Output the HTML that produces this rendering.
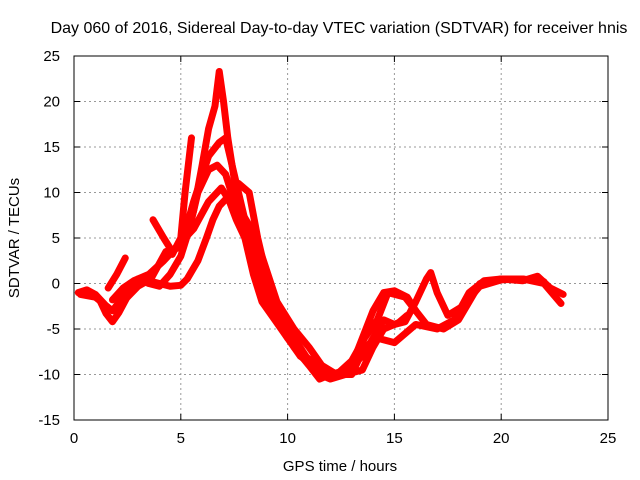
<!DOCTYPE html>
<html><head><meta charset="utf-8"><style>
body{margin:0;background:#fff;}
svg{display:block;font-family:"Liberation Sans",sans-serif;}
</style></head><body>
<svg id="chart" width="640" height="480">
<text x="339" y="33" text-anchor="middle" font-size="16" fill="#000">Day 060 of 2016, Sidereal Day-to-day VTEC variation (SDTVAR) for receiver hnis</text>
<text transform="translate(19,238) rotate(-90)" text-anchor="middle" font-size="15" fill="#000">SDTVAR / TECUs</text>
<text x="340" y="471" text-anchor="middle" font-size="15" fill="#000">GPS time / hours</text>
<g id="grid"></g>
<g id="ticks"></g>
<g id="series"></g>
<rect x="74" y="56" width="534" height="364" fill="none" stroke="#000" stroke-width="1"/>
</svg>
<script>
const xTicks=[0,5,10,15,20,25];
const yTicks=[-15,-10,-5,0,5,10,15,20,25];
const s1=[[0.2,-1],[0.6,-0.7],[1,-1.2],[1.4,-2.2],[1.6,-2.8]];
const s2=[[1.2,-1.8],[1.5,-3.3],[1.8,-4.2],[2.1,-3.2],[2.6,-1],[3,0],[3.5,0.3],[4,0],[4.5,-0.3],[5,-0.2],[5.3,0.5],[5.8,2.5],[6.2,5],[6.5,7],[6.8,8.5],[7.2,9.5],[7.6,7],[8,5],[8.5,2],[9,-1],[9.7,-4],[10.3,-6],[11,-8.5],[11.5,-10],[12,-10.5],[12.7,-10],[13.5,-9.5],[14,-7],[14.5,-5],[15.2,-4.3],[15.6,-3.5]];
const s3=[[1.8,-1.8],[2.3,-0.5],[2.8,0.3],[3.5,1],[4.2,2.5],[4.8,4],[5.2,5],[5.6,8],[6,13],[6.3,17],[6.6,19.5],[6.8,23.3],[7,20],[7.2,16],[7.6,10],[8,5],[8.4,1],[8.8,-2],[9.4,-4],[10,-6],[10.6,-8],[11.2,-9],[11.8,-9.5],[12.4,-10],[13,-9],[13.5,-6],[14,-3],[14.5,-1],[15,-0.8],[15.6,-1.5],[16,-3],[16.5,-4.5],[17.3,-5],[18,-4],[18.5,-2],[19,0],[20,0.5],[21,0.3],[21.7,0.8],[22.3,-0.5],[22.9,-1.2]];
const s4=[[2.5,-1.5],[3,-0.3],[3.6,0.5],[4.3,3.5],[5,4],[5.6,9],[6.3,14],[6.8,15.5],[7.1,16],[7.5,12],[8,7],[8.5,3],[9,0],[9.6,-4],[10.3,-7],[11,-9],[11.5,-10.5],[12,-10],[12.8,-9.5],[13.5,-8],[14,-6],[14.5,-4],[15,-4.5],[15.5,-4.2],[16,-2],[16.5,0.5],[16.7,1.2],[17,-1],[17.5,-3.5],[18.2,-2.5],[19,-0.3],[20,0.4],[21,0.5],[22,0],[22.8,-2.2]];
const s5=[[0.3,-1.2],[1,-1.5],[1.8,-3],[2.3,-1.5],[3,0.5],[3.5,0],[4,-0.3],[4.5,1],[5,3],[5.4,6],[5.8,10],[6.3,12.5],[6.7,13],[7.1,12],[7.5,9],[8,6],[8.6,1],[9.2,-3],[10,-6],[10.8,-8],[11.5,-9],[12.2,-10],[13,-10],[13.6,-7],[14.2,-6],[15,-6.5],[15.5,-5.5],[16,-4.5],[17,-5],[17.8,-4],[18.5,-1],[19.2,0.3],[20,0.5],[21,0.5],[22,0.2]];
const s6=[[3.7,7],[4.2,5],[4.6,3.5],[5,4.5],[5.6,6],[6.3,9],[6.9,10.5],[7.3,9],[7.8,8],[8.3,6],[8.8,3],[9.5,-2],[10.3,-5],[11,-7],[11.6,-9],[12.3,-10],[13,-8.5],[13.6,-6],[14.2,-4],[14.7,-1],[15.5,-1.5],[16,-3]];
const s7=[[1.6,-0.5],[2,1],[2.4,2.8]];
const s8=[[4.6,3.2],[5,5],[5.2,10],[5.4,14],[5.5,16]];
const s9=[[7.7,11],[8.2,10],[8.6,5],[9,1]];
const allSeries=[s1,s2,s3,s4,s5,s6,s7,s8,s9];
const X0=74,X1=608,Y0=420,Y1=56;
const xs=v=>X0+(v-0)/(25-0)*(X1-X0);
const ys=v=>Y0-(v+15)/(40)*(Y0-Y1);
const NS="http://www.w3.org/2000/svg";
const grid=document.getElementById('grid'),ticks=document.getElementById('ticks'),sg=document.getElementById('series');
function mk(t,a,p){const e=document.createElementNS(NS,t);for(const k in a)e.setAttribute(k,a[k]);p.appendChild(e);return e;}
xTicks.forEach(v=>{const x=xs(v);
 if(v>0&&v<25){const g=mk('line',{x1:x,x2:x,y1:Y0,y2:Y1,stroke:'#999','stroke-dasharray':'2,3'},grid);
 
 }
 mk('line',{x1:x,x2:x,y1:Y0,y2:Y0-6,stroke:'#000'},ticks);mk('line',{x1:x,x2:x,y1:Y1,y2:Y1+6,stroke:'#000'},ticks);
 const t=mk('text',{x:x,y:443,'text-anchor':'middle','font-size':'15'},ticks);t.textContent=v;
 
 });
yTicks.forEach(v=>{const y=ys(v);
 if(v>-15&&v<25){const g=mk('line',{x1:X0,x2:X1,y1:y,y2:y,stroke:'#999','stroke-dasharray':'2,3'},grid);
 
 }
 mk('line',{x1:X0,x2:X0+6,y1:y,y2:y,stroke:'#000'},ticks);mk('line',{x1:X1,x2:X1-6,y1:y,y2:y,stroke:'#000'},ticks);
 const t=mk('text',{x:60,y:y+5,'text-anchor':'end','font-size':'15'},ticks);t.textContent=v;
 
 });
allSeries.forEach((s,i)=>{
 const p=mk('polyline',{points:s.map(d=>xs(d[0])+','+ys(d[1])).join(' '),fill:'none',stroke:'#ff0000','stroke-width':'7','stroke-linejoin':'round','stroke-linecap':'round'},sg);
 
 
});
</script>
</body></html>
